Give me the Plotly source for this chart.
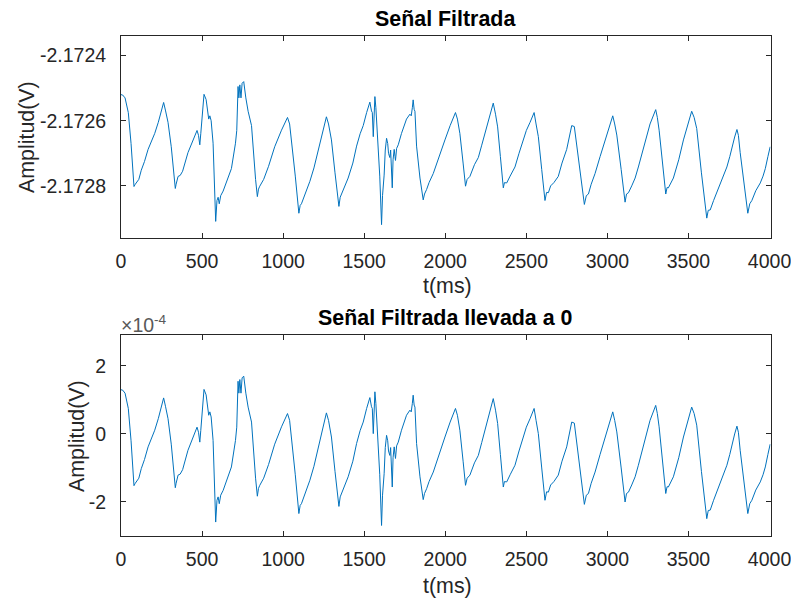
import plotly.graph_objects as go

# ---- data ----
t_ms = [0, 10, 25, 45, 62, 80, 88, 97, 110, 125, 145, 167, 190, 208, 230, 250, 263, 275, 290, 310,
        335, 340, 352, 365, 380, 413, 444, 469, 478, 486, 492, 505, 512, 525, 541, 548, 556, 568, 584, 592,
        599, 606, 615, 630, 650, 681, 706, 714, 722, 727, 733, 740, 747, 757, 770, 784, 805, 815, 830, 841,
        848, 856, 880, 910, 948, 990, 1010, 1027, 1040, 1052, 1075, 1097, 1105, 1113, 1140, 1165, 1190, 1216, 1240, 1267,
        1280, 1298, 1320, 1344, 1352, 1364, 1401, 1430, 1453, 1475, 1494, 1515, 1535, 1545, 1550, 1556, 1562, 1566, 1572, 1578,
        1586, 1596, 1607, 1613, 1623, 1630, 1638, 1645, 1650, 1658, 1663, 1668, 1673, 1678, 1685, 1690, 1693, 1700, 1710, 1730,
        1745, 1761, 1782, 1790, 1797, 1802, 1808, 1813, 1823, 1844, 1864, 1872, 1885, 1900, 1926, 1960, 1998, 2030, 2063, 2075,
        2090, 2110, 2125, 2135, 2152, 2180, 2204, 2225, 2245, 2270, 2296, 2310, 2323, 2340, 2358, 2365, 2379, 2400, 2430, 2455,
        2481, 2500, 2523, 2548, 2560, 2574, 2595, 2615, 2625, 2636, 2650, 2670, 2697, 2720, 2749, 2780, 2796, 2810, 2831, 2858,
        2870, 2883, 2900, 2924, 2955, 2986, 3010, 3033, 3045, 3058, 3085, 3109, 3118, 3130, 3150, 3171, 3191, 3222, 3263, 3298,
        3308, 3319, 3340, 3360, 3368, 3376, 3407, 3440, 3469, 3495, 3520, 3535, 3551, 3580, 3613, 3622, 3634, 3655, 3675, 3705,
        3737, 3755, 3774, 3785, 3799, 3808, 3819, 3840, 3866, 3878, 3891, 3915, 3943, 3960, 3974, 3990, 4004]

# zero-mean filtered signal, in units of 1e-4 V
amp_zeroed_e4 = [1.30, 1.29, 1.20, 0.75, -0.20, -1.52, -1.45, -1.40, -1.30, -1.02, -0.75, -0.38, -0.10, 0.11, 0.45, 0.85, 1.06, 0.80, 0.45, -0.30,
                 -1.58, -1.45, -1.21, -1.18, -1.05, -0.48, -0.09, 0.20, 0.05, -0.24, 0.10, 1.10, 1.31, 1.15, 0.55, 0.65, 0.50, -0.19, -2.59, -1.95,
                 -1.85, -2.05, -1.80, -1.66, -1.40, -0.97, -0.19, 0.20, 1.55, 1.20, 1.60, 1.20, 1.65, 1.70, 1.20, 0.79, 0.35, -0.38, -1.30, -1.83,
                 -1.60, -1.51, -1.30, -0.90, -0.30, 0.21, 0.45, 0.60, 0.40, -0.09, -1.20, -2.34, -2.10, -2.05, -1.70, -1.36, -0.95, -0.43, 0.05, 0.62,
                 0.40, -0.09, -1.10, -2.13, -1.85, -1.71, -1.26, -0.80, -0.28, 0.10, 0.35, 0.75, 1.07, 0.80, 0.75, 0.01, 0.80, 1.24, 0.90, 0.40,
                 -0.28, -1.20, -2.69, -1.80, -1.17, -0.40, -0.04, -0.20, -0.50, -0.63, -0.40, -0.90, -1.56, -0.70, -0.38, -0.60, -0.72, -0.35, -0.24, 0.11,
                 0.35, 0.55, 0.70, 0.65, 0.90, 1.14, 0.85, 0.79, -0.28, -1.26, -1.93, -1.75, -1.61, -1.40, -1.12, -0.60, -0.09, 0.35, 0.75, 0.55,
                 0.11, -0.80, -1.51, -1.30, -1.21, -0.85, -0.63, -0.25, 0.11, 0.60, 1.04, 0.70, 0.31, -0.60, -1.56, -1.40, -1.41, -1.20, -0.92, -0.50,
                 -0.09, 0.20, 0.45, 0.75, 0.40, 0.01, -1.00, -1.95, -1.70, -1.71, -1.50, -1.40, -1.21, -0.80, -0.38, 0.35, 0.32, -0.20, -0.97, -2.07,
                 -1.80, -1.75, -1.45, -1.12, -0.60, -0.09, 0.30, 0.65, 0.40, 0.06, -1.00, -2.00, -1.75, -1.71, -1.50, -1.26, -0.92, -0.38, 0.40, 0.84,
                 0.60, 0.21, -0.80, -1.75, -1.55, -1.56, -1.26, -0.70, -0.09, 0.40, 0.79, 0.60, 0.26, -1.10, -2.49, -2.25, -2.24, -1.95, -1.71, -1.30,
                 -0.92, -0.60, -0.19, 0.00, 0.23, 0.05, -0.48, -1.40, -2.34, -2.05, -1.95, -1.65, -1.41, -1.20, -0.97, -0.60, -0.30]

signal_offset_v = -2.17265  # DC level of the filtered signal (V)

top_ticks = [-2.1728, -2.1726, -2.1724]
top_ticktext = ["-2.1728", "-2.1726", "-2.1724"]
bot_ticks_e4 = [-2, 0, 2]
x_ticks = [0, 500, 1000, 1500, 2000, 2500, 3000, 3500, 4000]

title_top = "Señal Filtrada"
title_bot = "Señal Filtrada llevada a 0"
x_label = "t(ms)"
y_label = "Amplitud(V)"

# ---- derived series ----
amp_zeroed_v = [v * 1e-4 for v in amp_zeroed_e4]
amp_filtered_v = [signal_offset_v + v for v in amp_zeroed_v]

W, H = 791, 602
def px(x):
    return x / W
def py(y):
    return 1 - y / H

FONT = "Liberation Sans, Arial, Helvetica, sans-serif"
AX = "#262626"
LINE = "#0072BD"

fig = go.Figure()
fig.add_trace(go.Scatter(x=t_ms, y=amp_filtered_v, mode="lines",
                         line=dict(color=LINE, width=1), xaxis="x", yaxis="y", showlegend=False))
fig.add_trace(go.Scatter(x=t_ms, y=amp_zeroed_v, mode="lines",
                         line=dict(color=LINE, width=1), xaxis="x2", yaxis="y2", showlegend=False))

axis_common = dict(showline=True, linecolor=AX, linewidth=1, mirror="ticks", ticks="inside",
                   ticklen=5, tickcolor=AX, tickwidth=1, showgrid=False, zeroline=False,
                   ticklabeloverflow="allow", automargin=False,
                   tickfont=dict(family=FONT, size=19.5, color=AX))

xdom = [px(121), px(770.5)]
fig.update_layout(
    width=W, height=H, margin=dict(l=0, r=0, t=0, b=0, autoexpand=False),
    paper_bgcolor="white", plot_bgcolor="white",
    xaxis=dict(domain=xdom, range=[0, 4006], tickvals=x_ticks, anchor="y",
               ticklabelstandoff=6, **axis_common),
    yaxis=dict(domain=[py(238), py(36)], range=[-2.17296, -2.17234], tickvals=top_ticks,
               ticktext=top_ticktext, anchor="x", ticklabelstandoff=10, **axis_common),
    xaxis2=dict(domain=xdom, range=[0, 4006], tickvals=x_ticks, anchor="y2",
                ticklabelstandoff=6, **axis_common),
    yaxis2=dict(domain=[py(536), py(335)], range=[-3.0e-4, 2.91e-4],
                tickvals=[v * 1e-4 for v in bot_ticks_e4], ticktext=[str(v) for v in bot_ticks_e4],
                anchor="x2", ticklabelstandoff=10, **axis_common),
)

ann = []
def add(text, x, y, size, color, xanchor="center", yanchor="middle", angle=0):
    ann.append(dict(text=text, x=px(x), y=py(y), xref="paper", yref="paper", showarrow=False,
                    xanchor=xanchor, yanchor=yanchor, textangle=angle,
                    font=dict(family=FONT, size=size, color=color)))

add("<b>" + title_top + "</b>", 445.5, 19, 21.4, "#000000")
add("<b>" + title_bot + "</b>", 445.5, 318, 21.4, "#000000")
add(x_label, 447, 286, 21.4, AX)
add(x_label, 447, 586, 21.4, AX)
add(y_label, 27, 137, 21.4, AX, angle=-90)
add(y_label, 77, 436, 21.4, AX, angle=-90)
add("×10<sup>-4</sup>", 119, 324, 19.5, "#595959", xanchor="left")
fig.update_layout(annotations=ann)

fig.write_html("out.html")
